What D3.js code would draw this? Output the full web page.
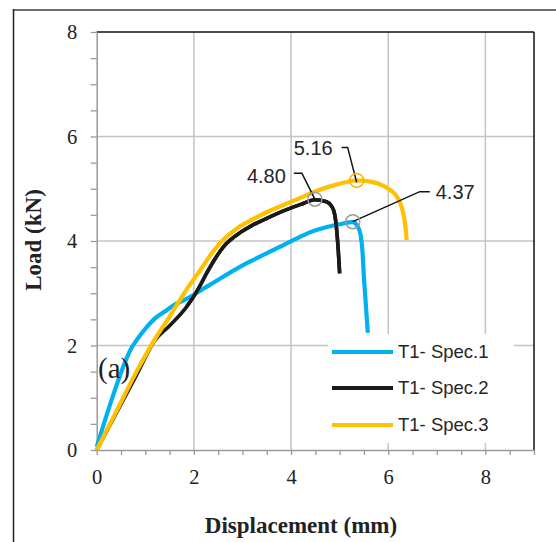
<!DOCTYPE html>
<html>
<head>
<meta charset="utf-8">
<script src="https://cdn.jsdelivr.net/npm/d3@7"></script>
<style>
  body { margin: 0; background: #fff; }
  svg { display: block; }
</style>
</head>
<body>
<svg id="chart" width="556" height="542"></svg>
<script>
// ---------- data ----------
const seriesNames = ["T1- Spec.1", "T1- Spec.2", "T1- Spec.3"];
const seriesColors = ["#00B0F0", "#1a1a1a", "#FFC000"];

const spec1Disp = [0, 0.35, 0.6, 0.72, 0.82, 1.0, 1.2, 1.4, 1.64, 1.8, 2.0, 2.2, 2.4, 2.7, 3.08, 3.4, 3.77, 4.1, 4.4, 4.7, 5.0, 5.27, 5.37, 5.43, 5.47, 5.5, 5.53, 5.56, 5.58];
const spec1Load = [0.06, 1.08, 1.72, 1.96, 2.1, 2.32, 2.52, 2.65, 2.8, 2.87, 2.97, 3.09, 3.2, 3.37, 3.57, 3.72, 3.89, 4.04, 4.17, 4.26, 4.32, 4.36, 4.28, 4.12, 3.8, 3.3, 2.9, 2.5, 2.24];

const spec2Disp = [0, 0.4, 0.8, 1.2, 1.5, 1.85, 2.1, 2.26, 2.45, 2.6, 2.75, 2.95, 3.2, 3.49, 3.91, 4.2, 4.49, 4.73, 4.84, 4.9, 4.94, 4.97, 5.0];
const spec2Load = [0, 0.7, 1.4, 2.1, 2.38, 2.74, 3.1, 3.38, 3.68, 3.88, 4.02, 4.16, 4.3, 4.43, 4.6, 4.7, 4.79, 4.75, 4.66, 4.5, 4.2, 3.85, 3.38];

const spec3Disp = [0, 0.4, 0.82, 1.23, 1.5, 1.71, 1.9, 2.13, 2.35, 2.54, 2.75, 2.95, 3.2, 3.5, 3.77, 4.18, 4.5, 4.86, 5.1, 5.35, 5.6, 5.89, 6.05, 6.17, 6.25, 6.3, 6.35, 6.38];
const spec3Load = [0, 0.73, 1.5, 2.17, 2.55, 2.87, 3.14, 3.44, 3.74, 3.96, 4.14, 4.28, 4.41, 4.55, 4.66, 4.82, 4.95, 5.06, 5.12, 5.16, 5.14, 5.06, 4.97, 4.86, 4.72, 4.57, 4.3, 4.02];

const peakLabels = ["4.37", "4.80", "5.16"];
const peakDisp = [5.27, 4.49, 5.35];
const peakLoad = [4.37, 4.80, 5.16];

const xTickLabels = [0, 2, 4, 6, 8];
const yTickLabels = [0, 2, 4, 6, 8];
const xTitle = "Displacement (mm)";
const yTitle = "Load (kN)";
const panelLabel = "(a)";

// ---------- setup ----------
const svg = d3.select("#chart");
const x = d3.scaleLinear().domain([0, 9]).range([96.7, 534]);
const y = d3.scaleLinear().domain([0, 8]).range([450, 32]);

svg.append("rect").attr("width", 556).attr("height", 542).attr("fill", "#fff");

// outer frame
svg.append("line").attr("x1", 13).attr("x2", 556).attr("y1", 10).attr("y2", 10)
  .attr("stroke", "#6e6e6e").attr("stroke-width", 2);
svg.append("line").attr("x1", 13.5).attr("x2", 13.5).attr("y1", 9).attr("y2", 542)
  .attr("stroke", "#222").attr("stroke-width", 1.5);

// gridlines
const grid = svg.append("g");
grid.selectAll(".gx").data(xTickLabels.filter(d => d > 0)).enter().append("line")
  .attr("x1", d => x(d)).attr("x2", d => x(d)).attr("y1", y(0)).attr("y2", y(8))
  .attr("stroke", "#c4c4c4").attr("stroke-width", 1.5);
grid.selectAll(".gy").data(yTickLabels.filter(d => d > 0 && d < 8)).enter().append("line")
  .attr("x1", x(0)).attr("x2", x(9)).attr("y1", d => y(d)).attr("y2", d => y(d))
  .attr("stroke", "#c4c4c4").attr("stroke-width", 1.5);

// top / right borders
svg.append("line").attr("x1", x(0)).attr("x2", x(9)).attr("y1", y(8)).attr("y2", y(8))
  .attr("stroke", "#111").attr("stroke-width", 1.5);
svg.append("line").attr("x1", x(9)).attr("x2", x(9)).attr("y1", y(8)).attr("y2", y(0))
  .attr("stroke", "#111").attr("stroke-width", 1.5);

// axes
const xMinor = d3.range(0, 9.01, 0.5);
const yMinor = d3.range(0, 8.01, 0.5);
const xAxis = svg.append("g").attr("transform", `translate(0,${y(0)})`)
  .call(d3.axisBottom(x).tickValues(xMinor).tickSize(5).tickPadding(14).tickSizeOuter(0)
    .tickFormat(d => xTickLabels.includes(d) ? String(d) : ""));
const yAxis = svg.append("g").attr("transform", `translate(${x(0)},0)`)
  .call(d3.axisLeft(y).tickValues(yMinor).tickSize(6).tickPadding(13.5).tickSizeOuter(0)
    .tickFormat(d => yTickLabels.includes(d) ? String(d) : ""));
[xAxis, yAxis].forEach(a => {
  a.select(".domain").attr("stroke", "#9a9a9a").attr("stroke-width", 1.5);
  a.selectAll(".tick line").attr("stroke", "#9a9a9a").attr("stroke-width", 1.3);
  a.selectAll(".tick text").attr("font-family", "'Liberation Serif', 'Times New Roman', serif")
    .attr("font-size", 20.5).attr("fill", "#222");
});

// axis titles
svg.append("text").attr("x", 301).attr("y", 533).attr("text-anchor", "middle")
  .attr("font-family", "'Liberation Serif', 'Times New Roman', serif").attr("font-weight", "bold")
  .attr("font-size", 23).attr("fill", "#222").text(xTitle);
svg.append("text").attr("transform", "translate(41,240) rotate(-90)").attr("text-anchor", "middle")
  .attr("font-family", "'Liberation Serif', 'Times New Roman', serif").attr("font-weight", "bold")
  .attr("font-size", 23).attr("fill", "#222").text(yTitle);

// series
const series = [
  { disp: spec1Disp, load: spec1Load, w: 4.2 },
  { disp: spec2Disp, load: spec2Load, w: 3.6 },
  { disp: spec3Disp, load: spec3Load, w: 4.2 }
];
const line = d3.line().x(d => x(d[0])).y(d => y(d[1])).curve(d3.curveMonotoneX);
const order = [1, 0, 2];
order.forEach(i => {
  const s = series[i];
  svg.append("path").datum(s.disp.map((d, k) => [d, s.load[k]]))
    .attr("d", line).attr("fill", "none").attr("stroke", seriesColors[i])
    .attr("stroke-width", s.w).attr("stroke-linejoin", "round").attr("stroke-linecap", "butt");
});
// black is visible alongside yellow from mid-range onward
svg.append("path").datum(spec2Disp.map((d, k) => [d, spec2Load[k]]).filter(d => d[0] >= 1.85))
  .attr("d", line).attr("fill", "none").attr("stroke", seriesColors[1])
  .attr("stroke-width", 3.6).attr("stroke-linejoin", "round");

// panel label
svg.append("text").attr("x", 98).attr("y", 378)
  .attr("font-family", "'Liberation Serif', 'Times New Roman', serif")
  .attr("font-size", 29).attr("fill", "#222").text(panelLabel);

// peak annotations
const circleColors = ["#9a9a9a", "#9a9a9a", "#FFB000"];
const leaders = [
  { pts: [[0, 0], [67, -30], [77, -30]], tx: 83, ty: -23, anchor: "start" },
  { pts: [[0, 0], [-13, -26], [-21, -26]], tx: -29, ty: -16, anchor: "end" },
  { pts: [[0, 2], [-9, -33], [-15, -33]], tx: -24, ty: -25, anchor: "end" }
];
peakLabels.forEach((lab, i) => {
  const cx = x(peakDisp[i]), cy = y(peakLoad[i]);
  const L = leaders[i];
  svg.append("polyline").attr("points", L.pts.map(p => [cx + p[0], cy + p[1]].join(",")).join(" "))
    .attr("fill", "none").attr("stroke", "#111").attr("stroke-width", 1.5);
  svg.append("circle").attr("cx", cx).attr("cy", cy).attr("r", 7)
    .attr("fill", "none").attr("stroke", circleColors[i]).attr("stroke-width", 1.5);
  svg.append("text").attr("x", cx + L.tx).attr("y", cy + L.ty).attr("text-anchor", L.anchor)
    .attr("font-family", "'Liberation Sans', Arial, sans-serif").attr("font-size", 20)
    .attr("fill", "#262626").text(lab);
});

// legend
svg.append("rect").attr("x", 328).attr("y", 334).attr("width", 186).attr("height", 109).attr("fill", "#fff");
const legY = [352, 388, 425];
seriesNames.forEach((n, i) => {
  svg.append("line").attr("x1", 332).attr("x2", 393).attr("y1", legY[i]).attr("y2", legY[i])
    .attr("stroke", seriesColors[i]).attr("stroke-width", 4.2);
  svg.append("text").attr("x", 398).attr("y", legY[i]).attr("dy", "0.35em")
    .attr("font-family", "'Liberation Sans', Arial, sans-serif").attr("font-size", 18.5)
    .attr("fill", "#262626").text(n);
});
</script>
</body>
</html>
